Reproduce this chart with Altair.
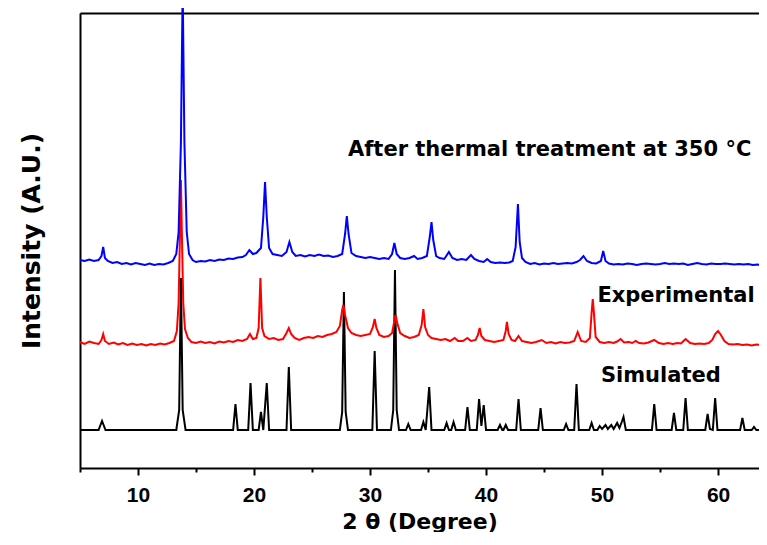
import altair as alt
import pandas as pd

# ---- data (2-theta in degrees, intensity in arbitrary units above each trace's baseline)
series_names = ["Simulated", "Experimental", "After thermal treatment at 350 °C"]
series_colors = ["#000000", "#FF0000", "#0000FF"]
series_offsets = [38, 125, 206]

simulated = [
    (5.0, 0), (6.6, 0), (6.9, 9), (7.2, 0),
    (13.3, 0), (13.55, 20), (13.7, 152), (13.85, 20), (14.1, 0),
    (18.2, 0), (18.4, 26), (18.6, 0),
    (19.5, 0), (19.7, 47), (19.9, 0),
    (20.4, 0), (20.6, 18), (20.8, 0), (21.1, 47), (21.3, 0),
    (22.8, 0), (23.0, 63), (23.2, 0),
    (27.4, 0), (27.6, 18), (27.75, 138), (27.9, 18), (28.1, 0),
    (30.2, 0), (30.4, 79), (30.6, 0),
    (31.8, 0), (32.0, 20), (32.15, 160), (32.3, 20), (32.5, 0),
    (33.1, 0), (33.3, 6), (33.5, 0),
    (34.4, 0), (34.6, 8), (34.8, 0), (35.1, 43), (35.3, 0),
    (36.4, 0), (36.6, 7), (36.8, 0), (37.0, 0), (37.2, 8), (37.4, 0),
    (38.2, 0), (38.4, 23), (38.6, 0),
    (39.2, 0), (39.4, 31), (39.6, 4), (39.8, 25), (40.0, 0),
    (41.0, 0), (41.2, 5), (41.4, 0), (41.5, 0), (41.7, 5), (41.9, 0),
    (42.6, 0), (42.8, 31), (43.0, 0),
    (44.5, 0), (44.7, 22), (44.9, 0),
    (46.7, 0), (46.9, 6), (47.1, 0),
    (47.6, 0), (47.8, 46), (48.0, 0),
    (48.9, 0), (49.1, 7), (49.3, 0), (49.6, 0), (49.8, 4), (50.0, 1), (50.3, 5), (50.5, 1),
    (50.8, 5), (51.0, 1), (51.3, 7), (51.5, 2), (51.7, 8), (51.85, 13), (52.05, 0),
    (54.3, 0), (54.5, 26), (54.7, 0),
    (56.0, 0), (56.2, 17), (56.4, 0),
    (57.0, 0), (57.2, 32), (57.4, 0),
    (58.9, 0), (59.1, 16), (59.3, 1), (59.55, 0), (59.75, 32), (59.95, 0),
    (61.9, 0), (62.1, 12), (62.3, 0),
    (62.9, 0), (63.1, 3), (63.3, 0), (64.2, 0),
]

experimental = [
    (5.0, 1), (5.4, -1), (5.8, 1.5), (6.2, 0), (6.6, -1), (6.85, 3), (7.0, 9), (7.15, 2), (7.5, -1),
    (7.9, 0.5), (8.3, -1.5), (8.7, 0), (9.1, -2), (9.5, -0.5), (9.9, -2), (10.3, -1), (10.7, -2.5),
    (11.1, -1), (11.5, -2), (11.9, -0.5), (12.3, -1.5), (12.7, 0), (13.1, 2), (13.35, 12), (13.5, 40),
    (13.62, 110), (13.7, 163), (13.78, 110), (13.9, 40), (14.05, 14), (14.3, 5), (14.6, 1), (15.0, 0),
    (15.4, 1.5), (15.8, 0), (16.2, 1), (16.6, -0.5), (17.0, 1.5), (17.4, 0.5), (17.8, 2), (18.2, 1),
    (18.6, 3), (19.0, 2), (19.4, 4), (19.65, 9), (19.9, 4), (20.2, 5), (20.4, 15), (20.55, 65),
    (20.7, 15), (20.9, 7), (21.3, 4), (21.7, 5), (22.1, 3), (22.5, 4), (22.8, 10), (23.0, 15),
    (23.2, 9), (23.5, 5), (23.9, 3), (24.3, 5), (24.7, 6), (25.1, 5), (25.5, 7), (25.9, 6), (26.3, 8),
    (26.7, 9), (27.1, 11), (27.4, 17), (27.6, 33), (27.7, 38), (27.85, 28), (28.1, 15), (28.4, 10),
    (28.8, 8), (29.2, 7), (29.6, 8), (30.0, 9), (30.25, 16), (30.4, 24), (30.55, 15), (30.8, 8),
    (31.2, 6), (31.6, 7), (31.9, 10), (32.1, 22), (32.2, 28), (32.35, 20), (32.6, 10), (33.0, 7),
    (33.4, 5), (33.8, 6), (34.2, 8), (34.45, 18), (34.6, 34), (34.75, 16), (35.0, 8), (35.3, 5),
    (35.7, 4), (36.1, 3), (36.5, 4), (36.9, 2), (37.3, 5), (37.6, 2), (38.0, 2), (38.4, 5), (38.7, 2),
    (39.1, 3), (39.3, 8), (39.45, 15), (39.6, 7), (39.9, 3), (40.3, 2), (40.7, 1), (41.1, 2),
    (41.5, 3), (41.7, 12), (41.8, 21), (41.95, 9), (42.2, 3), (42.5, 2), (42.8, 7), (43.1, 2),
    (43.5, 1), (43.9, 0), (44.3, 1), (44.8, 3), (45.2, 0), (45.6, 1), (46.0, -0.5), (46.4, 1),
    (46.8, 0), (47.2, 0.5), (47.6, 2), (47.9, 11), (48.2, 2), (48.6, 1), (48.95, 5), (49.1, 30),
    (49.2, 44), (49.3, 30), (49.45, 6), (49.8, 1), (50.2, 0), (50.6, 1), (51.0, 0), (51.3, 1.5),
    (51.6, 4), (51.9, 0.5), (52.3, 1), (52.6, 0), (52.9, 2), (53.2, 0), (53.6, -0.5), (54.0, 0.5),
    (54.5, 3), (54.9, 0), (55.3, -1), (55.7, 0), (56.1, -1), (56.5, 0), (56.8, -0.5), (57.2, 4),
    (57.6, 0), (58.0, -1), (58.4, -0.5), (58.8, -1), (59.2, 0), (59.5, 3), (59.75, 9), (60.0, 12),
    (60.25, 8), (60.55, 2), (60.9, -1), (61.3, -1.5), (61.7, -1), (62.1, -2), (62.5, -1.5),
    (62.9, -2.5), (63.3, -1.5), (63.7, -2), (64.2, -2),
]

after_thermal = [
    (5.0, 2), (5.4, 1), (5.8, 2.5), (6.2, 1), (6.6, 2), (6.85, 6), (7.0, 15), (7.15, 4), (7.4, 1),
    (7.8, -1), (8.2, 0), (8.6, -2), (9.0, -1), (9.4, -2.5), (9.8, -1), (10.2, -2), (10.6, -3),
    (11.0, -1.5), (11.4, -3), (11.8, -2), (12.2, -2.5), (12.6, -1), (13.0, 1), (13.3, 8), (13.5, 30),
    (13.7, 120), (13.85, 275), (14.0, 120), (14.2, 30), (14.4, 8), (14.7, 2), (15.0, 0), (15.4, 1),
    (15.8, 0.5), (16.2, 2), (16.6, 1), (17.0, 2.5), (17.4, 2), (17.8, 3.5), (18.2, 3), (18.6, 4.5),
    (19.0, 5), (19.3, 7), (19.6, 12), (19.9, 8), (20.2, 9), (20.6, 14), (20.8, 45), (20.95, 80),
    (21.1, 45), (21.3, 14), (21.6, 8), (22.0, 7), (22.4, 6), (22.8, 10), (23.05, 20), (23.3, 10),
    (23.6, 6), (24.0, 7), (24.4, 5.5), (24.8, 7), (25.2, 6), (25.6, 7.5), (26.0, 6), (26.4, 6.5),
    (26.8, 5), (27.2, 6), (27.6, 8), (27.85, 28), (28.0, 46), (28.15, 28), (28.4, 9), (28.8, 6),
    (29.2, 5), (29.6, 4), (30.0, 5), (30.4, 4), (30.8, 3), (31.2, 4), (31.6, 3), (31.9, 8),
    (32.1, 19), (32.3, 8), (32.6, 4), (33.0, 3), (33.4, 4), (33.8, 6), (34.1, 3), (34.5, 4),
    (34.9, 6), (35.15, 25), (35.3, 40), (35.45, 22), (35.7, 6), (36.0, 4), (36.4, 3), (36.8, 10),
    (37.1, 4), (37.5, 2), (37.9, 3), (38.3, 2), (38.7, 7), (39.0, 3), (39.4, 1), (39.8, 0),
    (40.1, 3), (40.4, 0), (40.8, -1), (41.2, -0.5), (41.6, -1), (42.0, -0.5), (42.3, 1),
    (42.55, 15), (42.75, 58), (42.9, 20), (43.1, 4), (43.4, 0), (43.8, -2), (44.2, -1),
    (44.6, -2.5), (45.0, -1.5), (45.4, -2), (45.8, -1), (46.2, -2), (46.6, -1.5), (47.0, -1),
    (47.4, -1.5), (47.8, 0), (48.1, 2), (48.4, 6), (48.7, 1), (49.1, -1), (49.5, -1.5), (49.9, 1),
    (50.1, 11), (50.3, 1), (50.6, -1.5), (51.0, -2.5), (51.4, -2), (51.8, -2.5), (52.2, -1.5),
    (52.6, -2), (53.0, -3), (53.4, -2), (53.8, -1.5), (54.2, -2), (54.6, -2.5), (55.0, -2),
    (55.4, -1), (55.8, -2), (56.2, -1.5), (56.6, -2), (57.0, -1.5), (57.4, -3), (57.8, -2),
    (58.2, -1), (58.6, -2), (59.0, -2.5), (59.4, -1.5), (59.8, -2), (60.2, -2), (60.6, -1.5),
    (61.0, -2), (61.4, -2.5), (61.8, -2), (62.2, -2.5), (62.6, -2), (63.0, -3), (63.4, -2.5),
    (63.8, -3), (64.2, -3),
]

label_texts = ["After thermal treatment at 350 °C", "Experimental", "Simulated"]
label_two_theta = [28.1, 49.6, 49.9]
label_intensity = [318, 172, 92]

x_ticks = [5, 10, 15, 20, 25, 30, 35, 40, 45, 50, 55, 60]
x_domain = [5, 63.53]
y_domain = [0, 455]

# ---- tables
def trace_df(points, name, offset):
    return pd.DataFrame({
        "two_theta": [p[0] for p in points],
        "intensity": [p[1] + offset for p in points],
        "series": name,
    })

traces = [simulated, experimental, after_thermal]
dfs = [trace_df(t, n, o) for t, n, o in zip(traces, series_names, series_offsets)]
labels_df = pd.DataFrame({"text": label_texts, "two_theta": label_two_theta, "intensity": label_intensity})

x_scale = alt.Scale(domain=x_domain, nice=False, zero=False)
y_scale = alt.Scale(domain=y_domain, nice=False, zero=False)

y_enc = alt.Y("intensity:Q", scale=y_scale,
              axis=alt.Axis(labels=False, ticks=False, grid=False, domain=True,
                            domainColor="black", domainWidth=2,
                            title="Intensity (A.U.)", titleFont="DejaVu Sans",
                            titleFontWeight="bold", titleFontSize=25, titleColor="black",
                            titlePadding=36))

bottom_axis = alt.Axis(values=x_ticks, grid=False,
                       labelExpr="datum.value % 10 === 0 ? datum.label : ''",
                       tickSize={"condition": {"test": "datum.value % 10 === 0", "value": 7}, "value": 4},
                       tickColor="black", tickWidth=2, domainColor="black", domainWidth=2,
                       labelFont="Liberation Sans", labelFontWeight="bold", labelFontSize=21,
                       labelColor="black", labelPadding=9,
                       title="2 θ (Degree)", titleFont="DejaVu Sans", titleFontWeight="bold",
                       titleFontSize=22, titleColor="black", titlePadding=6)

widths = [2, 2, 2]
layers = []
for i, (df, col, w) in enumerate(zip(dfs, series_colors, widths)):
    ax = bottom_axis if i == 0 else None
    layers.append(
        alt.Chart(df).mark_line(color=col, strokeWidth=w, clip=False).encode(
            x=alt.X("two_theta:Q", scale=x_scale, axis=ax),
            y=y_enc,
        )
    )

text_layer = alt.Chart(labels_df).mark_text(
    align="left", baseline="middle", font="DejaVu Sans", fontWeight="bold", fontSize=21, color="black"
).encode(
    x=alt.X("two_theta:Q", scale=x_scale,
            axis=alt.Axis(orient="top", labels=False, ticks=False, grid=False, title=None,
                          domainColor="black", domainWidth=2)),
    y=y_enc,
    text="text:N",
)

chart = alt.layer(*layers, text_layer).resolve_axis(x="independent").properties(
    width=679, height=455,
    autosize=alt.AutoSizeParams(type="none"),
    padding={"left": 72, "top": 5, "right": 0, "bottom": 64},
).configure_view(stroke=None).configure(background="white")

chart.save("out.html", embed_options={"renderer": "svg", "actions": False})
